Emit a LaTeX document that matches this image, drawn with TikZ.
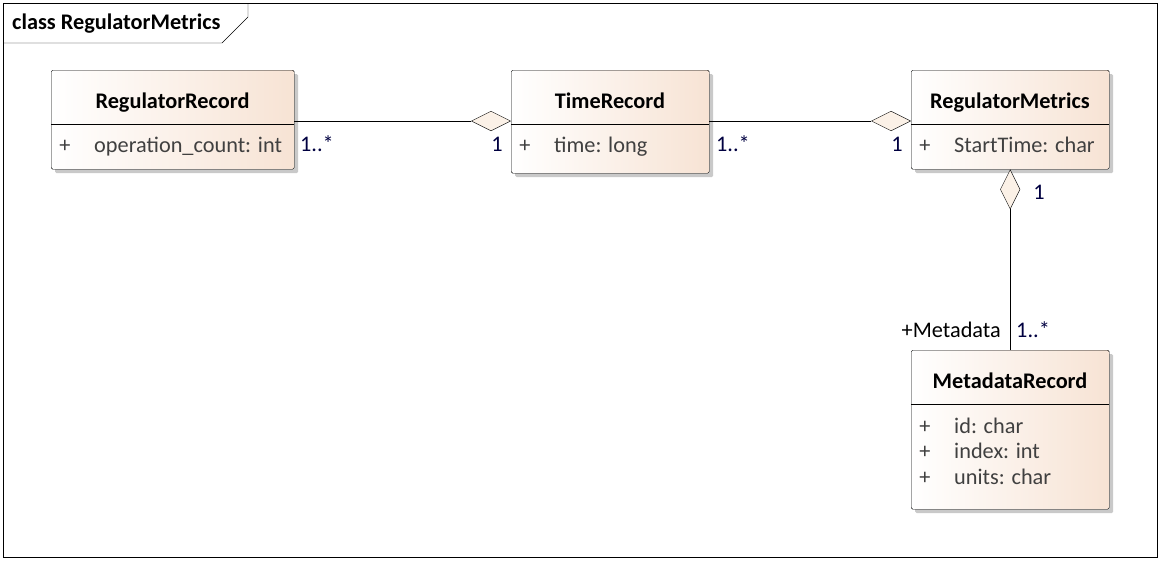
\documentclass[tikz,border=0pt]{standalone}
\usepackage{fontspec}
\setmainfont{Carlito}
\usepackage{xcolor}
\usetikzlibrary{shadows,arrows.meta}
\definecolor{classfill}{RGB}{247,227,212}
\definecolor{diamondfill}{RGB}{251,241,231}
\definecolor{attrtext}{RGB}{64,64,64}
\definecolor{multtext}{RGB}{0,0,64}

\begin{document}
\begin{tikzpicture}[x=1pt,y=-1pt,
  font=\fontsize{22.3}{26}\selectfont,
  classbox/.style={draw,rounded corners=1.5pt,left color=white,right color=classfill,
    drop shadow={shadow xshift=4pt,shadow yshift=-4pt,fill=black!30,opacity=0.7},
    inner sep=0pt,anchor=north west},
  classname/.style={font=\fontsize{22.3}{26}\selectfont\bfseries,inner sep=0pt,anchor=base},
  attr/.style={text=attrtext,inner sep=0pt,anchor=base west},
  vis/.style={text=attrtext,inner sep=0pt,anchor=base},
  mult/.style={text=multtext,inner sep=0pt,anchor=base},
  aggr/.style={-{Diamond[length=40pt,width=20pt,fill=diamondfill]}}]
\useasboundingbox (0,0) rectangle (1160,560);

% frame
\draw (3,3) rectangle (1157,557);
\draw (3,43) -- (222,43) -- (248,17) -- (248,3);
\node[classname,anchor=base west] (frametitle) at (12,29) {class RegulatorMetrics};

% classes
\node[classbox,minimum width=243,minimum height=99] (regrec) at (51,70) {};
\node[classname] (regrec-name) at (172.5,108) {RegulatorRecord};
\draw ([yshift=-54pt]regrec.north west) -- ([yshift=-54pt]regrec.north east);
\node[vis] (regrec-vis) at (65,152) {+};
\node[attr] (regrec-a1) at (94,152) {operation\_count: int};

\node[classbox,minimum width=198,minimum height=103] (timerec) at (511,70) {};
\node[classname] (timerec-name) at (610,108) {TimeRecord};
\draw ([yshift=-54pt]timerec.north west) -- ([yshift=-54pt]timerec.north east);
\node[vis] (timerec-vis) at (525,152) {+};
\node[attr] (timerec-a1) at (554,152) {time: long};

\node[classbox,minimum width=198,minimum height=99] (regmet) at (911,70) {};
\node[classname] (regmet-name) at (1010,108) {RegulatorMetrics};
\draw ([yshift=-54pt]regmet.north west) -- ([yshift=-54pt]regmet.north east);
\node[vis] (regmet-vis) at (925,152) {+};
\node[attr] (regmet-a1) at (954,152) {StartTime: char};

\node[classbox,minimum width=198,minimum height=159] (metarec) at (911,350) {};
\node[classname] (metarec-name) at (1010,388) {MetadataRecord};
\draw ([yshift=-54pt]metarec.north west) -- ([yshift=-54pt]metarec.north east);
\node[vis] (metarec-vis1) at (925,433) {+};
\node[attr] (metarec-a1) at (954,433) {id: char};
\node[vis] (metarec-vis2) at (925,458) {+};
\node[attr] (metarec-a2) at (954,458) {index: int};
\node[vis] (metarec-vis3) at (925,484) {+};
\node[attr] (metarec-a3) at (954,484) {units: char};

% associations
\draw[aggr] ([yshift=-51pt]regrec.north east) -- ([yshift=-51pt]timerec.north west);
\draw[aggr] ([yshift=-51pt]timerec.north east) -- ([yshift=-51pt]regmet.north west);
\draw[aggr] (metarec.north) -- (regmet.south);

\node[mult] (m1) at (317,151) {1..*};
\node[mult] (m2) at (497,151) {1};
\node[mult] (m3) at (733,151) {1..*};
\node[mult] (m4) at (897,151) {1};
\node[mult] (m5) at (1039,199) {1};
\node[inner sep=0pt,anchor=base east] (role) at (1001,337) {+Metadata};
\node[mult,anchor=base west] (m6) at (1016,337) {1..*};
\end{tikzpicture}
\end{document}
